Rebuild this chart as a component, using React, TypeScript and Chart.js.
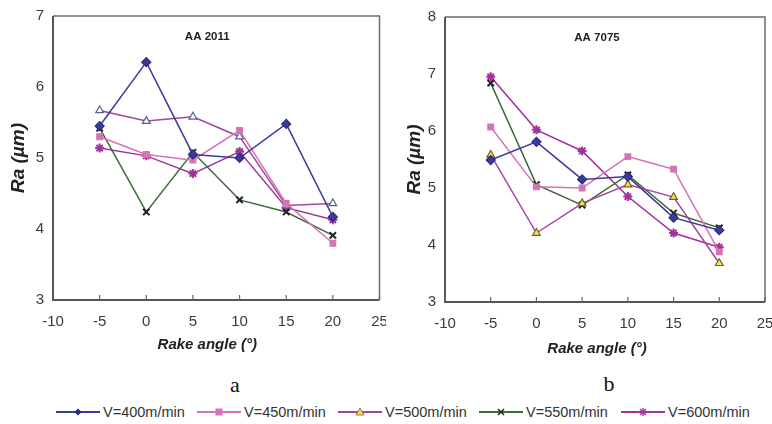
import React, { useEffect, useRef } from "react";
import { Chart, registerables } from "chart.js";

Chart.register(...registerables);

const rakeAngles = [-5, 0, 5, 10, 15, 20];
const seriesNames = ["V=400m/min", "V=450m/min", "V=500m/min", "V=550m/min", "V=600m/min"];

// AA 2011
const aa2011_v400 = [5.45, 6.35, 5.05, 5.0, 5.48, 4.17];
const aa2011_v450 = [5.3, 5.05, 4.97, 5.39, 4.36, 3.8];
const aa2011_v500 = [5.67, 5.52, 5.58, 5.3, 4.33, 4.36];
const aa2011_v550 = [5.42, 4.24, 5.08, 4.41, 4.24, 3.91];
const aa2011_v600 = [5.14, 5.03, 4.78, 5.09, 4.3, 4.13];

// AA 7075
const aa7075_v400 = [5.49, 5.81, 5.15, 5.2, 4.48, 4.26];
const aa7075_v450 = [6.07, 5.02, 5.0, 5.55, 5.33, 3.88];
const aa7075_v500 = [5.58, 4.21, 4.73, 5.06, 4.84, 3.68];
const aa7075_v550 = [6.84, 5.06, 4.7, 5.23, 4.56, 4.3];
const aa7075_v600 = [6.95, 6.02, 5.65, 4.85, 4.21, 3.96];

const xTickMin = -10;
const xTickMax = 25;

const SANS = '"Liberation Sans", Arial, sans-serif';

const lineColors = ["#3b3b98", "#d673b6", "#a545a0", "#3e6b3e", "#a0329a"];
const pointStyles = ["rectRot", "rect", "triangle", "crossRot", "star"];

type Cfg = {
  title: string;
  series: number[][];
  yMax: number;
  padLeft: number;
  padRight: number;
  padTop: number;
  yWidth: number;
  xHeight: number;
  xTitleY: number;
  titleShift: number;
  triFill: string;
  triBorder: string;
};

const framePlugin = {
  id: "frameAndTitle",
  afterDatasetsDraw(chart: any, _a: any, opts: any) {
    const { ctx, chartArea } = chart;
    const { left, right, top, bottom } = chartArea;
    ctx.save();
    ctx.strokeStyle = "#6a6a6a";
    ctx.lineWidth = 1.5;
    ctx.beginPath();
    ctx.moveTo(left, top);
    ctx.lineTo(right, top);
    ctx.lineTo(right, bottom);
    ctx.stroke();
    ctx.strokeStyle = "#555";
    ctx.lineWidth = 2;
    ctx.beginPath();
    ctx.moveTo(left, top);
    ctx.lineTo(left, bottom);
    ctx.lineTo(right, bottom);
    ctx.stroke();
    const xs = chart.scales.x;
    ctx.lineWidth = 1.2;
    ctx.strokeStyle = "#666";
    xs.ticks.forEach((t: any) => {
      const px = xs.getPixelForValue(t.value);
      ctx.beginPath();
      ctx.moveTo(px, bottom);
      ctx.lineTo(px, bottom - 5);
      ctx.stroke();
    });
    ctx.fillStyle = "#222";
    ctx.textAlign = "center";
    ctx.textBaseline = "middle";
    ctx.font = `bold 11.5px ${SANS}`;
    ctx.fillText(opts.text, (left + right) / 2 + opts.shift, top + 21);
    ctx.font = `italic bold 15px ${SANS}`;
    ctx.fillText("Rake angle (°)", (left + right) / 2 + opts.shift, opts.xTitleY);
    ctx.restore();
  },
};

function makeConfig(c: Cfg): any {
  const datasets = c.series.map((vals, i) => {
    const isTri = i === 2;
    const isCross = i === 3;
    return {
      label: seriesNames[i],
      data: rakeAngles.map((x, k) => ({ x, y: vals[k] })),
      showLine: true,
      borderColor: lineColors[i],
      borderWidth: 1.5,
      pointStyle: pointStyles[i],
      pointRadius: i === 1 ? 4 : 4.5,
      pointBackgroundColor: isTri ? c.triFill : isCross ? "#222" : lineColors[i],
      pointBorderColor: isTri ? c.triBorder : isCross ? "#222" : i === 0 ? "#2a2a80" : lineColors[i],
      pointBorderWidth: isCross || i === 4 ? 2 : 1.2,
      tension: 0,
      fill: false,
    };
  });
  return {
    type: "scatter",
    data: { datasets },
    options: {
      responsive: false,
      animation: false,
      events: [],
      layout: { padding: { left: c.padLeft, right: c.padRight, top: c.padTop, bottom: 0 } },
      plugins: {
        legend: { display: false },
        tooltip: { enabled: false },
        frameAndTitle: { text: c.title, shift: c.titleShift, xTitleY: c.xTitleY },
      },
      scales: {
        x: {
          type: "linear",
          min: xTickMin,
          max: xTickMax,
          grid: { display: false, drawTicks: false },
          border: { display: false },
          ticks: {
            stepSize: 5,
            padding: 13,
            color: "#3a3a3a",
            font: { family: SANS, size: 15 },
            maxRotation: 0,
          },
          title: { display: false },
          afterFit: (s: any) => {
            s.height = c.xHeight;
            s.paddingLeft = 0;
            s.paddingRight = 0;
          },
        },
        y: {
          type: "linear",
          min: 3,
          max: c.yMax,
          grid: { display: false, drawTicks: false },
          border: { display: false },
          ticks: {
            stepSize: 1,
            padding: 9,
            color: "#3a3a3a",
            font: { family: SANS, size: 15 },
          },
          title: {
            display: true,
            text: "Ra (µm)",
            color: "#222",
            font: { family: SANS, size: 19, style: "italic", weight: "bold" },
            padding: { top: 0, bottom: 0 },
          },
          afterFit: (s: any) => {
            s.width = c.yWidth;
            s.paddingTop = 0;
            s.paddingBottom = 0;
          },
        },
      },
    },
    plugins: [framePlugin],
  };
}

function ChartPanel({ cfg, left }: { cfg: Cfg; left: number }) {
  const ref = useRef<HTMLCanvasElement | null>(null);
  useEffect(() => {
    if (!ref.current) return;
    const chart = new Chart(ref.current, makeConfig(cfg));
    return () => chart.destroy();
  }, []);
  return (
    <canvas
      ref={ref}
      width={386}
      height={360}
      style={{ position: "absolute", left, top: 0, width: 386, height: 360 }}
    />
  );
}

function LegendMarker({ i }: { i: number }) {
  const c = lineColors[i];
  const cx = 22;
  const cy = 7;
  let m: any = null;
  if (i === 0) m = <polygon points={`${cx},${cy - 3.5} ${cx + 3.5},${cy} ${cx},${cy + 3.5} ${cx - 3.5},${cy}`} fill="#2a2a80" />;
  if (i === 1) m = <rect x={cx - 3.5} y={cy - 3.5} width={7} height={7} fill={c} />;
  if (i === 2) m = <polygon points={`${cx},${cy - 4} ${cx + 4},${cy + 3} ${cx - 4},${cy + 3}`} fill="#f0e060" stroke="#806020" strokeWidth={0.8} />;
  if (i === 3)
    m = (
      <g stroke="#222" strokeWidth={1.4}>
        <line x1={cx - 3} y1={cy - 3} x2={cx + 3} y2={cy + 3} />
        <line x1={cx - 3} y1={cy + 3} x2={cx + 3} y2={cy - 3} />
      </g>
    );
  if (i === 4)
    m = (
      <g stroke={c} strokeWidth={1.4}>
        <line x1={cx - 3} y1={cy - 3} x2={cx + 3} y2={cy + 3} />
        <line x1={cx - 3} y1={cy + 3} x2={cx + 3} y2={cy - 3} />
        <line x1={cx} y1={cy - 4} x2={cx} y2={cy + 4} />
      </g>
    );
  return (
    <svg width={44} height={14} style={{ display: "block" }}>
      <line x1={0} y1={cy} x2={44} y2={cy} stroke={c} strokeWidth={2} />
      {m}
    </svg>
  );
}

const legendX = [56, 197, 338, 479, 621];

export default function App() {
  const left: Cfg = {
    title: "AA 2011",
    series: [aa2011_v400, aa2011_v450, aa2011_v500, aa2011_v550, aa2011_v600],
    yMax: 7,
    padLeft: 7,
    padRight: 6,
    padTop: 16,
    yWidth: 46,
    xHeight: 60,
    xTitleY: 345,
    titleShift: -9,
    triFill: "#ffffff",
    triBorder: "#5060a0",
  };
  const right: Cfg = {
    title: "AA 7075",
    series: [aa7075_v400, aa7075_v450, aa7075_v500, aa7075_v550, aa7075_v600],
    yMax: 8,
    padLeft: 17,
    padRight: 7,
    padTop: 17,
    yWidth: 42,
    xHeight: 58,
    xTitleY: 349,
    titleShift: -8,
    triFill: "#f0e060",
    triBorder: "#806020",
  };
  return (
    <div style={{ position: "fixed", left: 0, top: 0, width: 772, height: 424, background: "#fff", overflow: "hidden" }}>
      <ChartPanel cfg={left} left={0} />
      <ChartPanel cfg={right} left={386} />
      <div style={{ position: "absolute", left: 215, width: 40, top: 370, textAlign: "center", font: '22px "Liberation Serif", serif', lineHeight: "30px", color: "#111" }}>a</div>
      <div style={{ position: "absolute", left: 589, width: 40, top: 369, textAlign: "center", font: '22px "Liberation Serif", serif', lineHeight: "30px", color: "#111" }}>b</div>
      {seriesNames.map((n, i) => (
        <div key={n} style={{ position: "absolute", left: legendX[i], top: 402, height: 20, display: "flex", alignItems: "center" }}>
          <LegendMarker i={i} />
          <span style={{ marginLeft: 3, font: `14.5px ${SANS}`, color: "#333", whiteSpace: "nowrap" }}>{n}</span>
        </div>
      ))}
    </div>
  );
}
